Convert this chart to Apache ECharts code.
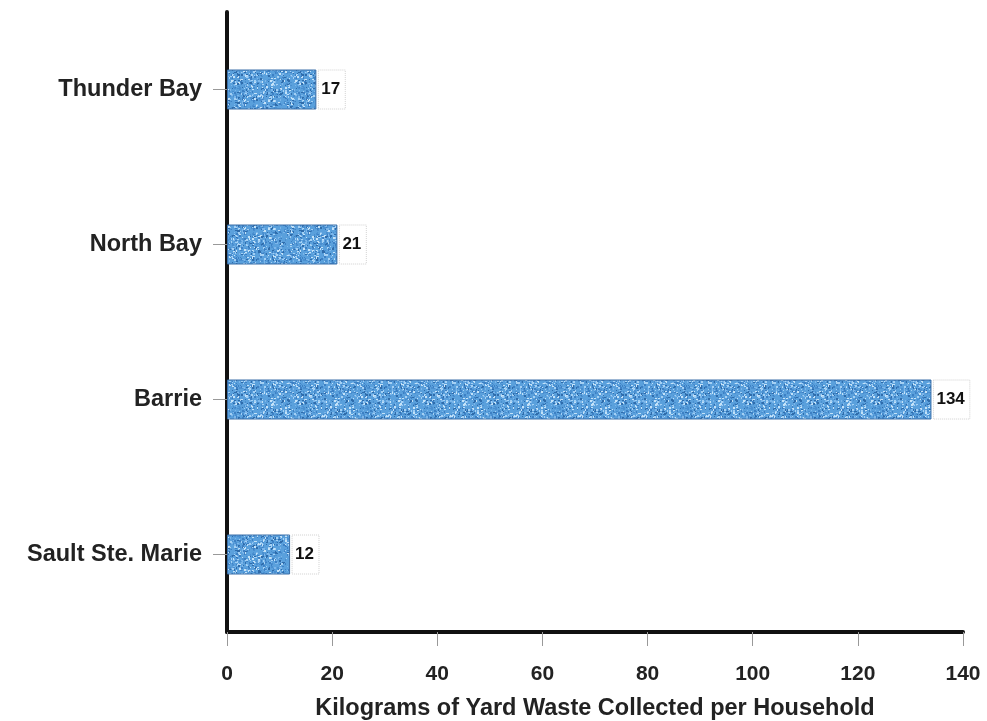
<!DOCTYPE html>
<html><head><meta charset="utf-8">
<script src="https://cdn.jsdelivr.net/npm/echarts@6/dist/echarts.min.js"></script>
<style>html,body{margin:0;padding:0;background:#fff}#c{width:987px;height:721px}</style>
</head><body><div id="c"></div>
<script>
const categories = ['Sault Ste. Marie', 'Barrie', 'North Bay', 'Thunder Bay'];
const values = [12, 134, 21, 17];
const xTicks = [0, 20, 40, 60, 80, 100, 120, 140];
const axisTitle = 'Kilograms of Yard Waste Collected per Household';

// speckled texture (deterministic)
function makePattern() {
  const cv = document.createElement('canvas');
  cv.width = 64; cv.height = 64;
  const ctx = cv.getContext('2d');
  ctx.fillStyle = '#5aa0dc';
  ctx.fillRect(0, 0, 64, 64);
  let s = 12345;
  const rnd = () => { s = (s * 1103515245 + 12345) & 0x7fffffff; return s / 0x7fffffff; };
  const cols = ['#a4d0f4', '#3d80c4', '#c4e2f8', '#2f6cab', '#7cb6ea', '#4a8fd0'];
  for (let i = 0; i < 1100; i++) {
    ctx.fillStyle = cols[Math.floor(rnd() * cols.length)];
    ctx.fillRect(Math.floor(rnd() * 64), Math.floor(rnd() * 64), 1 + Math.floor(rnd() * 2), 1 + Math.floor(rnd() * 2));
  }
  return cv;
}
const chart = echarts.init(document.getElementById('c'));
const font = "'Liberation Sans', Arial, sans-serif";
chart.setOption({
  backgroundColor: '#fff',
  animation: false,
  grid: { left: 227, right: 24, top: 12, bottom: 89, containLabel: false, outerBoundsMode: 'none' },
  xAxis: {
    type: 'value', min: 0, max: 140, interval: 20,
    splitLine: { show: false },
    axisLine: { show: true, lineStyle: { color: '#111', width: 4 } },
    axisTick: { show: true, length: 14, lineStyle: { color: '#999', width: 1 } },
    axisLabel: { color: '#222', fontSize: 21, fontWeight: 'bold', fontFamily: font, margin: 32,
      formatter: v => xTicks.includes(v) ? String(v) : '' },
    name: axisTitle, nameLocation: 'middle', nameGap: 65,
    nameTextStyle: { color: '#222', fontSize: 23.5, fontFamily: font, fontWeight: 'bold' }
  },
  yAxis: {
    type: 'category', data: categories,
    axisLine: { show: true, lineStyle: { color: '#111', width: 4 } },
    axisTick: { show: true, alignWithLabel: true, length: 14, lineStyle: { color: '#999', width: 1 } },
    axisLabel: { color: '#222', fontSize: 23.5, fontWeight: 'bold', fontFamily: font, margin: 25 }
  },
  series: [{
    type: 'bar', data: values, barWidth: 40,
    itemStyle: { color: { image: makePattern(), repeat: 'repeat' }, borderColor: '#3a6ea8', borderWidth: 1 },
    label: {
      show: true, position: 'right', distance: 2, color: '#111', fontSize: 17, fontWeight: 'bold',
      fontFamily: font, borderColor: '#d0d0d0', borderType: 'dotted', borderWidth: 1, padding: [11, 5, 11, 3]
    }
  }]
});
</script></body></html>
